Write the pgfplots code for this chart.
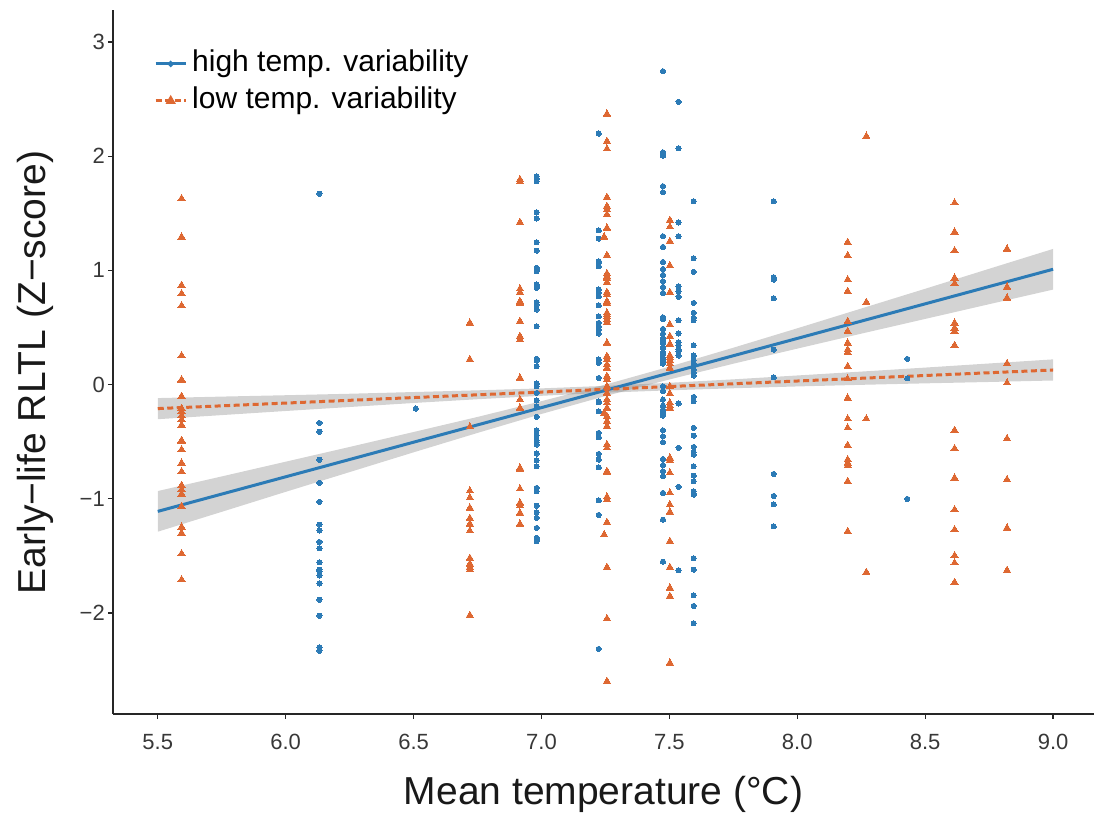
\documentclass[border=0pt]{standalone}
\usepackage{fontspec}
\setmainfont{Liberation Sans}
\usepackage{pgfplots}
\pgfplotsset{compat=1.18}
\definecolor{cblue}{RGB}{44,123,182}
\definecolor{corange}{RGB}{222,104,50}
\begin{document}
\begin{tikzpicture}
\begin{axis}[name=main,
  width=981pt, height=704pt, scale only axis,
  xmin=5.325, xmax=9.16, ymin=-2.884, ymax=3.28,
  axis lines*=left,
  axis line style={line width=1.6pt, black!85},
  xtick={5.5,6,6.5,7,7.5,8,8.5,9},
  xticklabels={5.5,6.0,6.5,7.0,7.5,8.0,8.5,9.0},
  ytick={-2,-1,0,1,2,3},
  yticklabels={−2,−1,0,1,2,3},
  tick align=outside, major tick length=5pt,
  tick style={line width=1.2pt, black!85},
  ticklabel style={font=\fontsize{22}{26}\selectfont, text=black!78},
  xticklabel style={inner sep=2pt, yshift=-13pt},
  yticklabel style={inner sep=2pt, xshift=-1pt},
  xlabel={Mean temperature (°C)},
  ylabel={Early−life RLTL (Z−score)},
  label style={font=\fontsize{39}{46}\selectfont, text=black!90},
  xlabel style={at={(axis description cs:0.5,0)}, anchor=base, yshift=-91pt},
  ylabel style={at={(axis description cs:0,0.485)}, anchor=base, yshift=67pt},
  legend image code/.code={\draw[mark repeat=2, mark phase=2, #1] plot coordinates {(0pt,0pt) (15pt,0pt) (30pt,0pt)};},
  legend style={at={(0.042,0.944)}, anchor=north west, draw=none, fill=none,
    inner sep=0pt, outer sep=0pt, font=\fontsize{30}{36}\selectfont, row sep=8pt,
    nodes={inner sep=0pt, text height=22pt, text depth=7pt, anchor=west},
    /tikz/every odd column/.append style={column sep=5pt}},
  legend cell align=left,
]
\addlegendimage{cblue, line width=3pt, mark=*, mark size=1.3pt, mark options={solid}}
\addlegendentry{high temp. variability}
\addlegendimage{corange, line width=3pt, dash pattern=on 6pt off 3.5pt, mark=triangle*, mark size=3pt, mark options={solid}}
\addlegendentry{low temp. variability}

% blue points (high temp. variability)
\addplot[only marks, mark=*, mark size=2.6pt, mark options={draw=cblue, fill=cblue, line width=0pt}, forget plot] coordinates {
(6.132,1.672) (6.132,-0.336) (6.132,-0.412) (6.132,-0.657) (6.132,-0.861) (6.132,-1.027) (6.132,-1.226) (6.132,-1.278) (6.132,-1.378) (6.132,-1.433) (6.132,-1.556) (6.132,-1.620) (6.132,-1.637) (6.132,-1.672) (6.132,-1.742) (6.132,-1.883) (6.132,-2.023) (6.132,-2.30) (6.132,-2.33)
(6.509,-0.21)
(6.981,1.824) (6.981,1.801) (6.981,1.780) (6.981,1.509) (6.981,1.454) (6.981,1.246) (6.981,1.173) (6.981,1.022) (6.981,1.007) (6.981,0.992) (6.981,0.876) (6.981,0.861) (6.981,0.847) (6.981,0.721) (6.981,0.701) (6.981,0.657) (6.981,0.511) (6.981,0.225) (6.981,0.210) (6.981,0.160) (6.981,0.009) (6.981,-0.015) (6.981,-0.073) (6.981,-0.137) (6.981,-0.190) (6.981,-0.283) (6.981,-0.400) (6.981,-0.444) (6.981,-0.488) (6.981,-0.505) (6.981,-0.525) (6.981,-0.604) (6.981,-0.663) (6.981,-0.715) (6.981,-0.905) (6.981,-0.934) (6.981,-1.060) (6.981,-1.118) (6.981,-1.167) (6.981,-1.255) (6.981,-1.342) (6.981,-1.357) (6.981,-1.372)
(7.224,2.198) (7.224,1.351) (7.224,1.278) (7.224,1.080) (7.224,1.066) (7.224,1.036) (7.224,0.832) (7.224,0.803) (7.224,0.773) (7.224,0.694) (7.224,0.598) (7.224,0.540) (7.224,0.511) (7.224,0.482) (7.224,0.447) (7.224,0.219) (7.224,0.190) (7.224,0.058) (7.224,-0.146) (7.224,-0.155) (7.224,-0.234) (7.224,-0.423) (7.224,-0.461) (7.224,-0.607) (7.224,-0.657) (7.224,-0.724) (7.224,-1.013) (7.224,-1.141) (7.224,-2.314)
(7.475,2.744) (7.475,2.034) (7.475,2.020) (7.475,2.005) (7.475,1.737) (7.475,1.684) (7.475,1.299) (7.475,1.206) (7.475,1.074) (7.475,1.013) (7.475,0.961) (7.475,0.905) (7.475,0.855) (7.475,0.803) (7.475,0.589) (7.475,0.575) (7.475,0.488) (7.475,0.447) (7.475,0.405) (7.475,0.394) (7.475,0.365) (7.475,0.330) (7.475,0.321) (7.475,0.283) (7.475,0.263) (7.475,0.234) (7.475,0.204) (7.475,0.184) (7.475,-0.015) (7.475,-0.058) (7.475,-0.131) (7.475,-0.184) (7.475,-0.219) (7.475,-0.248) (7.475,-0.271) (7.475,-0.400) (7.475,-0.453) (7.475,-0.505) (7.475,-0.651) (7.475,-0.704) (7.475,-0.759) (7.475,-0.803) (7.475,-0.948) (7.475,-1.182) (7.475,-1.550)
(7.536,2.475) (7.536,2.069) (7.536,1.419) (7.536,1.299) (7.536,0.861) (7.536,0.817) (7.536,0.768) (7.536,0.563) (7.536,0.447) (7.536,0.370) (7.536,0.342) (7.536,0.306) (7.536,0.292) (7.536,0.254) (7.536,-0.166) (7.536,-0.554) (7.536,-0.896) (7.536,-1.626)
(7.595,1.605) (7.595,1.106) (7.595,0.987) (7.595,0.715) (7.595,0.628) (7.595,0.584) (7.595,0.563) (7.595,0.344) (7.595,0.254) (7.595,0.213) (7.595,0.184) (7.595,0.131) (7.595,0.102) (7.595,0.079) (7.595,-0.108) (7.595,-0.146) (7.595,-0.379) (7.595,-0.447) (7.595,-0.546) (7.595,-0.593) (7.595,-0.613) (7.595,-0.715) (7.595,-0.797) (7.595,-0.846) (7.595,-0.934) (7.595,-0.954) (7.595,-0.963) (7.595,-1.521) (7.595,-1.620) (7.595,-1.845) (7.595,-1.938) (7.595,-2.090)
(7.908,1.605) (7.908,0.940) (7.908,0.919) (7.908,0.756) (7.908,0.306) (7.908,0.064) (7.908,-0.782) (7.908,-0.975) (7.908,-1.048) (7.908,-1.241)
(8.43,0.225) (8.43,0.055) (8.43,-1.001)
};

% orange points (low temp. variability)
\addplot[only marks, mark=triangle*, mark size=4.2pt, mark options={draw=corange, fill=corange, line width=0pt}, forget plot] coordinates {
(5.593,1.629) (5.593,1.293) (5.593,0.870) (5.593,0.797) (5.593,0.692) (5.593,0.254) (5.593,0.044) (5.593,0.035) (5.593,-0.102) (5.593,-0.208) (5.593,-0.234) (5.593,-0.271) (5.593,-0.306) (5.593,-0.353) (5.593,-0.488) (5.593,-0.499) (5.593,-0.569) (5.593,-0.686) (5.593,-0.762) (5.593,-0.882) (5.593,-0.919) (5.593,-0.957) (5.593,-1.066) (5.593,-1.246) (5.593,-1.299) (5.593,-1.480) (5.593,-1.708)
(6.72,0.54) (6.72,0.22) (6.72,-0.37) (6.72,-0.93) (6.72,-0.99) (6.72,-1.08) (6.72,-1.17) (6.72,-1.22) (6.72,-1.28) (6.72,-1.52) (6.72,-1.57) (6.72,-1.60) (6.72,-1.62) (6.72,-2.02)
(6.916,1.795) (6.916,1.775) (6.916,1.421) (6.916,0.838) (6.916,0.808) (6.916,0.729) (6.916,0.715) (6.916,0.554) (6.916,0.423) (6.916,0.394) (6.916,0.058) (6.916,-0.131) (6.916,-0.204) (6.916,-0.730) (6.916,-0.744) (6.916,-0.913) (6.916,-1.036) (6.916,-1.060) (6.916,-1.124) (6.916,-1.220)
(7.256,2.37) (7.256,2.130) (7.256,2.064) (7.256,1.640) (7.256,1.561) (7.256,1.532) (7.256,1.489) (7.256,1.372) (7.245,1.293) (7.256,1.132) (7.256,0.972) (7.256,0.948) (7.256,0.934) (7.256,0.896) (7.256,0.808) (7.256,0.788) (7.256,0.729) (7.256,0.715) (7.256,0.628) (7.256,0.613) (7.256,0.593) (7.256,0.569) (7.256,0.546) (7.256,0.365) (7.256,0.248) (7.256,0.219) (7.256,0.175) (7.256,0.146) (7.256,0.073) (7.256,0.044) (7.256,-0.015) (7.256,-0.073) (7.256,-0.131) (7.256,-0.160) (7.256,-0.204) (7.245,-0.25) (7.256,-0.277) (7.256,-0.321) (7.256,-0.365) (7.256,-0.525) (7.256,-0.554) (7.256,-0.759) (7.256,-0.768) (7.256,-0.983) (7.256,-1.007) (7.256,-1.206) (7.245,-1.313) (7.256,-1.600) (7.256,-2.049) (7.256,-2.598)
(7.502,1.439) (7.502,1.381) (7.502,1.255) (7.502,1.042) (7.502,0.808) (7.502,0.525) (7.502,0.423) (7.502,0.356) (7.502,0.254) (7.502,0.234) (7.502,0.213) (7.502,0.184) (7.502,0.146) (7.502,-0.015) (7.502,-0.079) (7.502,-0.160) (7.502,-0.184) (7.502,-0.204) (7.502,-0.642) (7.502,-0.663) (7.502,-0.773) (7.502,-0.948) (7.502,-1.051) (7.502,-1.115) (7.502,-1.372) (7.502,-1.600) (7.502,-1.780) (7.502,-1.853) (7.502,-2.437)
(8.197,1.246) (8.197,1.130) (8.197,0.919) (8.197,0.817) (8.197,0.554) (8.197,0.467) (8.197,0.365) (8.197,0.306) (8.197,0.283) (8.197,0.160) (8.197,0.050) (8.197,-0.117) (8.197,-0.30) (8.197,-0.379) (8.197,-0.531) (8.197,-0.657) (8.197,-0.686) (8.197,-0.709) (8.197,-0.847) (8.197,-1.285)
(8.27,2.175) (8.27,0.721) (8.27,-0.30) (8.27,-1.643)
(8.615,1.591) (8.615,1.337) (8.615,1.173) (8.615,0.934) (8.615,0.884) (8.615,0.540) (8.615,0.496) (8.615,0.467) (8.615,0.344) (8.615,-0.400) (8.615,-0.560) (8.615,-0.817) (8.615,-1.095) (8.615,-1.270) (8.615,-1.497) (8.615,-1.561) (8.615,-1.731)
(8.82,1.188) (8.82,0.855) (8.82,0.759) (8.82,0.184) (8.82,0.015) (8.82,-0.473) (8.82,-0.832) (8.82,-1.255) (8.82,-1.626)
};

% confidence ribbons
\addplot[fill=gray, fill opacity=0.35, draw=none, forget plot] coordinates {
(5.5,-0.932) (5.75,-0.804) (6.0,-0.675) (6.25,-0.546) (6.5,-0.415) (6.75,-0.283) (7.0,-0.145) (7.25,0.000) (7.5,0.157) (7.75,0.323) (8.0,0.493) (8.25,0.666) (8.5,0.839) (8.75,1.014) (9.0,1.188)
(9.0,0.832) (8.75,0.704) (8.5,0.575) (8.25,0.446) (8.0,0.315) (7.75,0.183) (7.5,0.045) (7.25,-0.100) (7.0,-0.257) (6.75,-0.423) (6.5,-0.593) (6.25,-0.766) (6.0,-0.939) (5.75,-1.114) (5.5,-1.288)
};
\addplot[fill=gray, fill opacity=0.35, draw=none, forget plot] coordinates {
(5.5,-0.118) (5.75,-0.105) (6.0,-0.093) (6.25,-0.080) (6.5,-0.065) (6.75,-0.050) (7.0,-0.033) (7.25,-0.011) (7.5,0.016) (7.75,0.046) (8.0,0.080) (8.25,0.114) (8.5,0.149) (8.75,0.185) (9.0,0.221)
(9.0,0.036) (8.75,0.023) (8.5,0.011) (8.25,-0.002) (8.0,-0.016) (7.75,-0.032) (7.5,-0.050) (7.25,-0.071) (7.0,-0.098) (6.75,-0.128) (6.5,-0.161) (6.25,-0.196) (6.0,-0.231) (5.75,-0.267) (5.5,-0.303)
};

% regression lines
\addplot[cblue, line width=3pt, no marks, forget plot] coordinates {(5.5,-1.110) (9.0,1.010)};
\addplot[corange, line width=3pt, dash pattern=on 6pt off 3.5pt, no marks, forget plot] coordinates {(5.5,-0.210) (9.0,0.128)};
\end{axis}
\pgfresetboundingbox
\path[use as bounding box] ([xshift=-113pt,yshift=-100pt]main.south west) rectangle ([yshift=10pt]main.north east);
\end{tikzpicture}
\end{document}
